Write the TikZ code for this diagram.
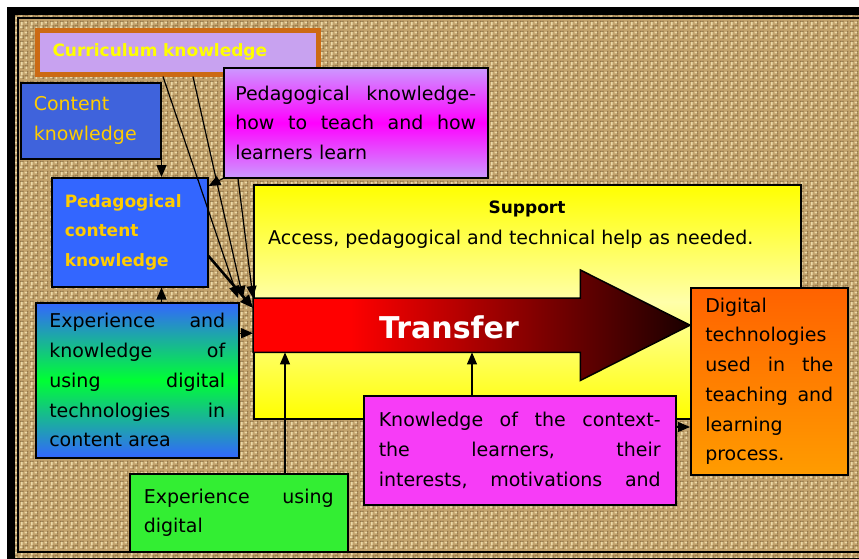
\documentclass[tikz,border=0pt]{standalone}
\usepackage{fontspec}
\setmainfont{DejaVu Sans}
\usetikzlibrary{arrows.meta,patterns}
\definecolor{tanbase}{HTML}{C2A26C}
\definecolor{tanlight}{HTML}{EAD9A8}
\definecolor{tandark}{HTML}{7E6034}
\definecolor{currfill}{HTML}{C8A2F0}
\definecolor{currborder}{HTML}{CC6A14}
\definecolor{ckblue}{HTML}{3F63DC}
\definecolor{txtyellow}{HTML}{FFCC00}
\definecolor{lav}{HTML}{CC99FF}
\definecolor{mag}{HTML}{FF00FF}
\definecolor{pckblue}{HTML}{3366FF}
\definecolor{expgreen}{HTML}{00FF33}
\definecolor{supyellow}{HTML}{FFFF00}
\definecolor{suppale}{HTML}{FFFFAA}
\definecolor{tred}{HTML}{FF0000}
\definecolor{tdark}{HTML}{1A0000}
\definecolor{orangetop}{HTML}{FF6200}
\definecolor{orangebot}{HTML}{FF9C00}
\definecolor{ctxmag}{HTML}{F73CF7}
\definecolor{exdgreen}{HTML}{33EE33}
\pgfdeclarepatternformonly{weave}{\pgfqpoint{0pt}{0pt}}{\pgfqpoint{10pt}{10pt}}{\pgfqpoint{10pt}{10pt}}{%
  \pgfsetlinewidth{1.6pt}%
  \pgfpathmoveto{\pgfqpoint{0pt}{2pt}}\pgfpathlineto{\pgfqpoint{4pt}{2pt}}%
  \pgfpathmoveto{\pgfqpoint{5pt}{7pt}}\pgfpathlineto{\pgfqpoint{9pt}{7pt}}%
  \pgfpathmoveto{\pgfqpoint{2pt}{4pt}}\pgfpathlineto{\pgfqpoint{2pt}{9pt}}%
  \pgfpathmoveto{\pgfqpoint{7pt}{0pt}}\pgfpathlineto{\pgfqpoint{7pt}{4pt}}%
  \pgfusepath{stroke}}
\pgfdeclarepatternformonly{weavedark}{\pgfqpoint{0pt}{0pt}}{\pgfqpoint{10pt}{10pt}}{\pgfqpoint{10pt}{10pt}}{%
  \pgfsetlinewidth{1pt}%
  \pgfpathmoveto{\pgfqpoint{5pt}{3.5pt}}\pgfpathlineto{\pgfqpoint{9pt}{3.5pt}}%
  \pgfpathmoveto{\pgfqpoint{0pt}{8.5pt}}\pgfpathlineto{\pgfqpoint{4pt}{8.5pt}}%
  \pgfpathmoveto{\pgfqpoint{3.5pt}{0pt}}\pgfpathlineto{\pgfqpoint{3.5pt}{4pt}}%
  \pgfpathmoveto{\pgfqpoint{8.5pt}{5pt}}\pgfpathlineto{\pgfqpoint{8.5pt}{9pt}}%
  \pgfusepath{stroke}}
\pgfdeclarehorizontalshading{tshade}{100bp}{color(0bp)=(tred); color(25bp)=(tred); color(36bp)=(tred); color(75bp)=(tdark); color(100bp)=(tdark)}
\newcommand\regtxt{\fontsize{19}{29.7}\selectfont}
\newcommand\boldtxt{\fontsize{17}{29.7}\selectfont\bfseries}
\tikzset{
  box/.style={draw=black, line width=1.5pt, anchor=north west, inner sep=0pt, font=\regtxt, align=left},
  arr/.style={-{Triangle[length=12pt,width=10pt]}, line width=1.2pt},
  thickarr/.style={-{Triangle[length=13pt,width=11pt]}, line width=2.6pt},
}
\begin{document}
\begin{tikzpicture}[x=1pt,y=-1pt]
\useasboundingbox (0,0) rectangle (859,558);
\clip (0,0) rectangle (859,558);
\fill[white] (0,0) rectangle (859,558);
% burlap background
\fill[tanbase] (7,7) rectangle (870,570);
\fill[pattern=weave, pattern color=tanlight] (7,7) rectangle (870,570);
\fill[pattern=weavedark, pattern color=tandark] (7,7) rectangle (870,570);
% frame
\draw[line width=8pt] (11,11) rectangle (880,562);
\draw[line width=1.5pt] (18,18) rectangle (880,552);

% support box
\node[box, minimum width=547pt, minimum height=234pt, top color=supyellow, bottom color=supyellow, middle color=suppale] (sup) at (253,184) {};
\node[font=\boldtxt, inner sep=0pt] (suptitle) at (527,209) {Support};
\node[font=\regtxt, inner sep=0pt, anchor=west] (suptext) at (268,239) {Access, pedagogical and technical help as needed.};

% transfer arrow
\node[minimum width=327pt, minimum height=54pt, inner sep=0pt, anchor=north west] (shaft) at (253,298) {};
\node[box, draw=none, minimum width=157pt, minimum height=187pt] (orangepos) at (690,287) {};
\path[draw=black, line width=1.5pt, shading=tshade, shading angle=0]
  (shaft.north west) -- (shaft.north east) -- ([yshift=28pt]shaft.north east)
  -- (shaft.east -| orangepos.west) -- ([yshift=-28pt]shaft.south east)
  -- (shaft.south east) -- (shaft.south west) -- cycle;
\node[text=white, font=\fontsize{30}{36}\selectfont\bfseries, inner sep=0pt] (trtext) at (449,327) {Transfer};

% boxes
\node[box, draw=currborder, line width=5pt, fill=currfill, minimum width=281pt, minimum height=44pt, text width=250pt, font=\boldtxt, text=supyellow] (curr) at (34.5,27.5) {Curriculum knowledge};
\node[box, fill=ckblue, minimum width=140pt, minimum height=76pt, text width=114pt, text=txtyellow] (ck) at (20,82) {Content\\knowledge};
\node[box, top color=lav, bottom color=lav, middle color=mag, minimum width=264pt, minimum height=110pt, text width=241pt] (ped) at (223,67) {Pedagogical\hfill knowledge-\\how\hfill to\hfill teach\hfill and\hfill how\\learners learn};
\node[box, fill=pckblue, minimum width=156pt, minimum height=109pt, text width=130pt, font=\boldtxt, text=txtyellow] (pck) at (51,177) {Pedagogical\\content\\knowledge};
\node[box, top color=pckblue, bottom color=pckblue, middle color=expgreen, minimum width=203pt, minimum height=155pt, text width=176pt] (exp) at (35,302) {Experience\hfill and\\knowledge\hfill of\\using\hfill digital\\technologies\hfill in\\content area};
\node[box, top color=orangetop, bottom color=orangebot, minimum width=157pt, minimum height=187pt, text width=128pt] (orange) at (690,287) {Digital\\technologies\\used\hfill in\hfill the\\teaching\hfill and\\learning\\process.};
\node[box, fill=ctxmag, minimum width=312pt, minimum height=109pt, text width=282pt] (ctx) at (363,395) {Knowledge\hfill of\hfill the\hfill context-\\the\hfill learners,\hfill their\\interests,\hfill motivations\hfill and};
\node[box, fill=exdgreen, minimum width=218pt, minimum height=78pt, text width=190pt] (exd) at (129,473) {Experience\hfill using\\digital};

% connectors
\coordinate (tin) at ([yshift=-8pt]shaft.west);
\coordinate (tb1) at ([xshift=32pt]shaft.south west);
\coordinate (tb2) at ([xshift=219pt]shaft.south west);
\coordinate (cout) at ([yshift=-32pt]ctx.north east);
\draw[arr] (ck.south east) -- (ck.south east |- pck.north);
\draw[arr] (exp.north -| ck.east) -- (pck.south -| ck.east);
\draw[arr] ([xshift=128.5pt]curr.south west) -- ([xshift=-15pt]shaft.north west);
\draw[arr] ([xshift=158.5pt]curr.south west) -- ([xshift=-10pt]shaft.north west);
\draw[arr] ([xshift=15pt]ped.south west) -- (shaft.north west);
\draw[arr] (ped.south west) -- ([yshift=-9pt]pck.north east);
\draw[thickarr] ([yshift=-79pt]pck.north east) -- ([yshift=-10pt]shaft.north west);
\draw[arr] (exp.east |- tin) -- (tin);
\draw[arr] (exd.north -| tb1) -- (tb1);
\draw[arr] (ctx.north -| tb2) -- (tb2);
\draw[arr] (cout) -- (cout -| orange.west);
\end{tikzpicture}
\end{document}
